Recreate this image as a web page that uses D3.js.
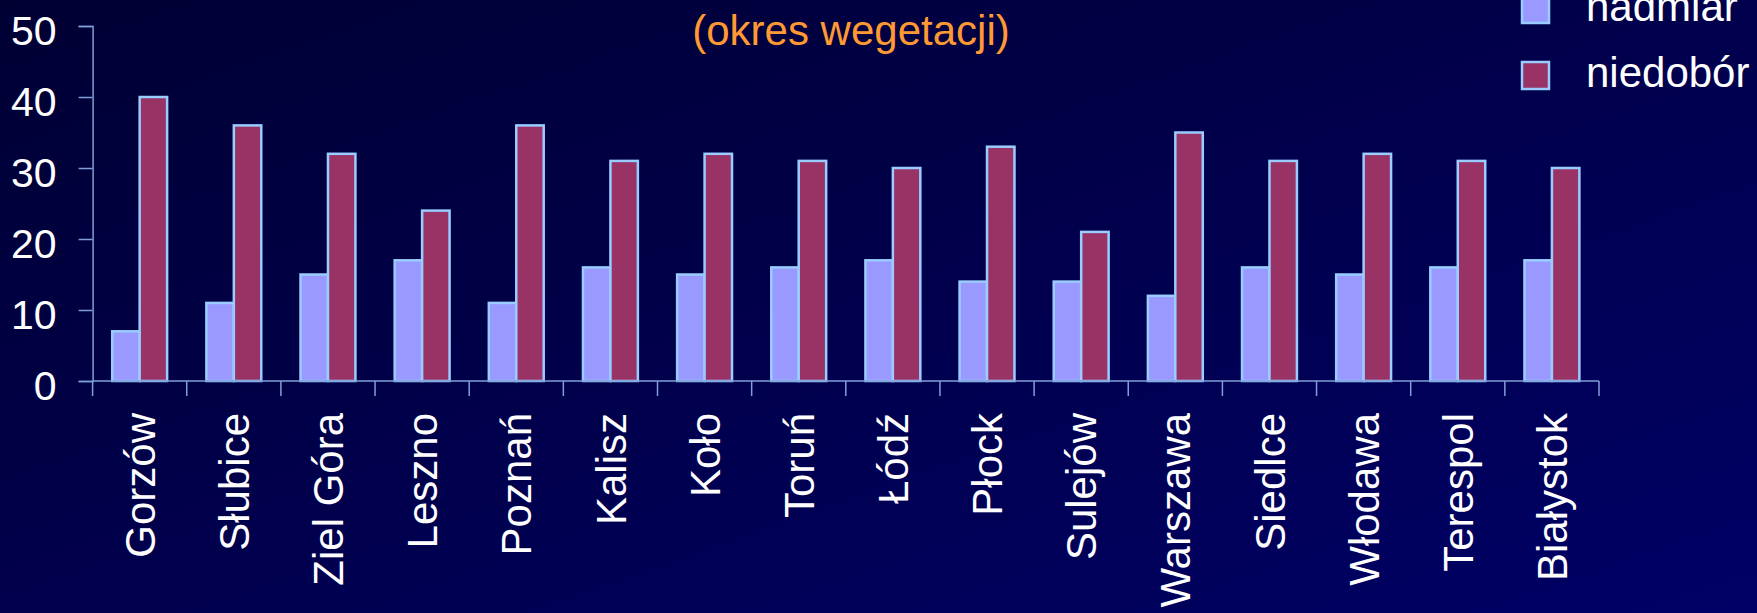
<!DOCTYPE html>
<html>
<head>
<meta charset="utf-8">
<script src="https://cdn.jsdelivr.net/npm/d3@7"></script>
<style>
  html, body { margin: 0; padding: 0; background: #000040; }
  svg { display: block; font-family: Arial, "Liberation Sans", sans-serif; }
</style>
</head>
<body>
<div id="chart"></div>
<script>
// Data
const categories = ["Gorzów", "Słubice", "Ziel Góra", "Leszno", "Poznań", "Kalisz", "Koło", "Toruń",
  "Łódź", "Płock", "Sulejów", "Warszawa", "Siedlce", "Włodawa", "Terespol", "Białystok"];
const series = ["nadmiar", "niedobór"];
const nadmiar = [7, 11, 15, 17, 11, 16, 15, 16, 17, 14, 14, 12, 16, 15, 16, 17];
const niedobor = [40, 36, 32, 24, 36, 31, 32, 31, 30, 33, 21, 35, 31, 32, 31, 30];
const yTicks = [0, 10, 20, 30, 40, 50];
const subtitle = "(okres wegetacji)";

const W = 1757, H = 613;
const plotLeft = 92.6, plotRight = 1599, plotTop = 26, plotBottom = 381;
const colors = {nadmiar: "#9999FF", "niedobór": "#993366"};
const edge = "#99CCFF";
const axisColor = "#7f9fd8";

const rows = categories.map((c, i) => ({name: c, nadmiar: nadmiar[i], "niedobór": niedobor[i]}));

const svg = d3.select("#chart").append("svg")
  .attr("width", W)
  .attr("height", H);

// background gradient
const grad = svg.append("defs").append("linearGradient")
  .attr("id", "bg")
  .attr("x1", "0").attr("y1", "0").attr("x2", "1").attr("y2", "1");
grad.append("stop").attr("offset", "0%").attr("stop-color", "#000033");
grad.append("stop").attr("offset", "100%").attr("stop-color", "#000066");
svg.append("rect").attr("width", W).attr("height", H).attr("fill", "url(#bg)");

// scales
const x = d3.scaleBand()
  .domain(categories)
  .range([plotLeft, plotRight])
  .padding(0);

const xSub = d3.scaleBand()
  .domain(series)
  .range([0, x.bandwidth()])
  .paddingInner(0)
  .paddingOuter(0.715);

const y = d3.scaleLinear()
  .domain([0, 50])
  .range([plotBottom, plotTop]);

// y axis
const yAxis = svg.append("g")
  .attr("transform", `translate(${plotLeft},0)`)
  .call(d3.axisLeft(y).tickValues(yTicks).tickSize(14).tickPadding(22));
yAxis.select(".domain").attr("stroke", axisColor).attr("stroke-width", 1.5);
yAxis.selectAll(".tick line").attr("stroke", axisColor).attr("stroke-width", 1.5);
yAxis.selectAll(".tick text")
  .attr("fill", "#ffffff")
  .attr("font-size", "41px")
  .attr("font-family", "Arial, 'Liberation Sans', sans-serif")
  .attr("dy", "0.45em");

// bars
const groups = svg.selectAll(".grp")
  .data(rows)
  .enter().append("g")
  .attr("class", "grp")
  .attr("transform", d => `translate(${x(d.name)},0)`);

groups.selectAll("rect")
  .data(d => series.map(s => ({key: s, value: d[s]})))
  .enter().append("rect")
  .attr("x", d => xSub(d.key))
  .attr("y", d => y(d.value))
  .attr("width", xSub.bandwidth())
  .attr("height", d => y(0) - y(d.value))
  .attr("fill", d => colors[d.key])
  .attr("stroke", edge)
  .attr("stroke-width", 2.5);

// x axis line and boundary ticks
const xAxis = svg.append("g").attr("class", "axis");
xAxis.append("line")
  .attr("x1", plotLeft).attr("x2", plotRight)
  .attr("y1", y(0)).attr("y2", y(0))
  .attr("stroke", axisColor).attr("stroke-width", 1.5);
const bounds = categories.map(c => x(c)).concat([x(categories[categories.length - 1]) + x.bandwidth()]);
xAxis.selectAll(".xt")
  .data(bounds)
  .enter().append("line")
  .attr("x1", d => d).attr("x2", d => d)
  .attr("y1", y(0)).attr("y2", y(0) + 15)
  .attr("stroke", axisColor).attr("stroke-width", 1.5);

// category labels, rotated
xAxis.selectAll(".lbl")
  .data(categories)
  .enter().append("text")
  .attr("transform", d => `translate(${x(d) + x.bandwidth() / 2},${y(0) + 32}) rotate(-90)`)
  .attr("text-anchor", "end")
  .attr("dy", "0.36em")
  .attr("fill", "#ffffff")
  .attr("font-size", "42px")
  .text(d => d);

// subtitle
svg.append("text")
  .attr("x", 851)
  .attr("y", 45)
  .attr("text-anchor", "middle")
  .attr("fill", "#FF9933")
  .attr("font-size", "42px")
  .text(subtitle);

// legend
const legend = svg.selectAll(".leg")
  .data(series)
  .enter().append("g")
  .attr("transform", (d, i) => `translate(1522,${-4 + i * 66})`);
legend.append("rect")
  .attr("width", 27).attr("height", 27)
  .attr("fill", d => colors[d])
  .attr("stroke", edge)
  .attr("stroke-width", 2.5);
legend.append("text")
  .attr("x", 64)
  .attr("y", 24.5)
  .attr("fill", "#ffffff")
  .attr("font-size", "42px")
  .text(d => d);
</script>
</body>
</html>
